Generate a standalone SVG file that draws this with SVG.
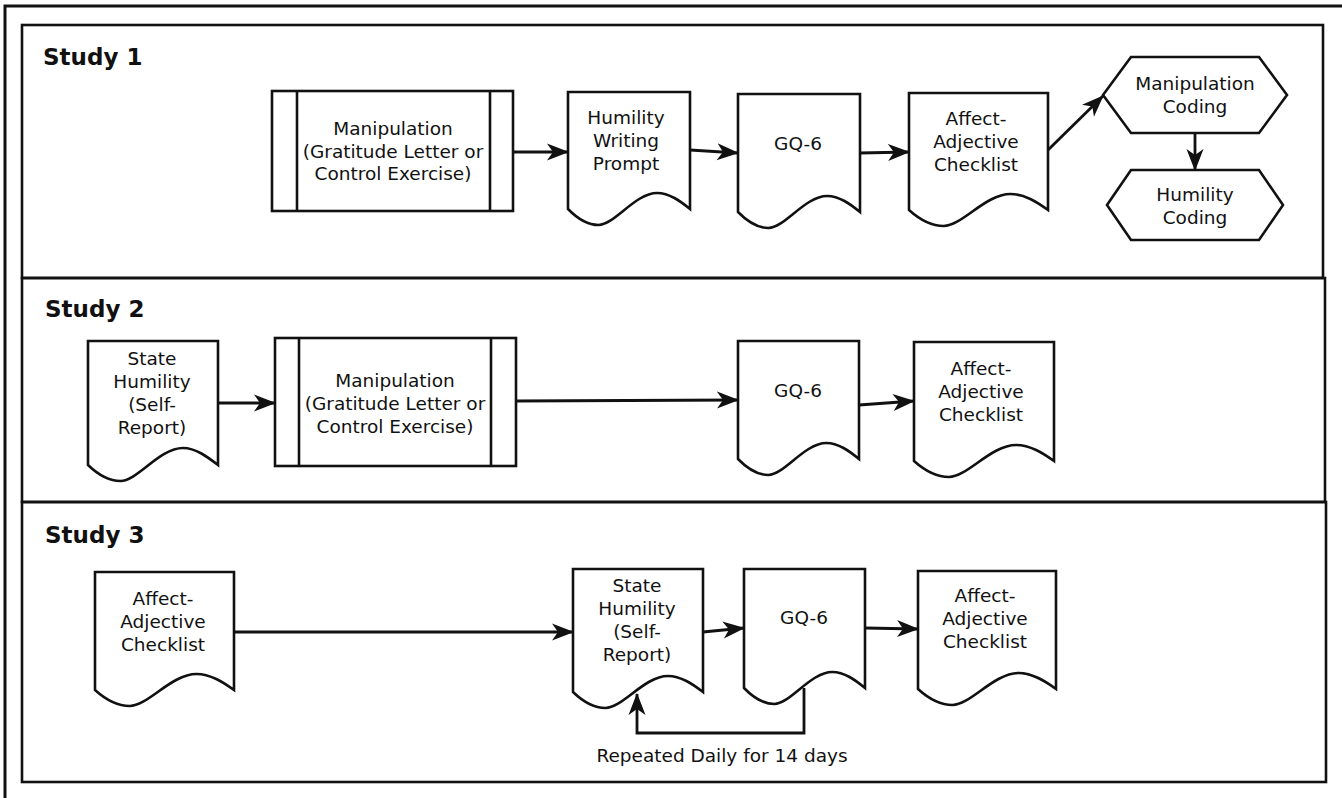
<svg xmlns="http://www.w3.org/2000/svg" width="1342" height="798" viewBox="0 0 1342 798">
<defs>
<style>
.frame{fill:none;stroke:#111;stroke-width:3}
.box{fill:none;stroke:#111;stroke-width:2.6}
.node{fill:#fff;stroke:#111;stroke-width:2.6;stroke-linejoin:miter}
.bar{fill:none;stroke:#111;stroke-width:2.6}
.t{font-family:"DejaVu Sans","Verdana",sans-serif;font-size:18.5px;fill:#111;text-anchor:middle}
.title{font-family:"DejaVu Sans","Verdana",sans-serif;font-size:23px;font-weight:bold;fill:#111}
.edge{fill:none;stroke:#111;stroke-width:2.8;marker-end:url(#ah)}
</style>
<marker id="ah" markerUnits="userSpaceOnUse" markerWidth="24" markerHeight="20" refX="21" refY="9" orient="auto" viewBox="0 0 24 20">
<path d="M0,0.5 L22,9 L0,17.5 L6,9 Z" fill="#111"/>
</marker>
</defs>
<rect width="1342" height="798" fill="#fff"/>
<path class="frame" d="M5,798 V6 H1342"/>
<g id="study1">
<rect class="box" x="22" y="25" width="1301" height="253"/>
<text class="title" x="43" y="65">Study 1</text>
</g>
<g id="study2">
<rect class="box" x="22" y="278" width="1303" height="224"/>
<text class="title" x="45" y="317">Study 2</text>
</g>
<g id="study3">
<rect class="box" x="22" y="502" width="1304" height="280"/>
<text class="title" x="45" y="543">Study 3</text>
</g>

<g id="s1-manipulation">
<rect class="node" x="272" y="91" width="241" height="120"/>
<path class="bar" d="M297,91 V211 M490,91 V211"/>
<text class="t" x="393" y="135">Manipulation</text>
<text class="t" x="393" y="158">(Gratitude Letter or</text>
<text class="t" x="393" y="180">Control Exercise)</text>
</g>
<g id="s1-humility-writing-prompt">
<path class="node" d="M568,92 V209 C577.8,219 588.7,225 598.5,225 C614.4,225 635.1,193 657.1,193 C669.3,193 680.2,201 690,209 V92 Z"/>
<text class="t" x="626" y="124">Humility</text>
<text class="t" x="626" y="147">Writing</text>
<text class="t" x="626" y="170">Prompt</text>
</g>
<g id="s1-gq6">
<path class="node" d="M738,94 V212 C747.8,222 758.7,228 768.5,228 C784.4,228 805.1,196 827.1,196 C839.3,196 850.2,204 860,212 V94 Z"/>
<text class="t" x="798" y="150">GQ-6</text>
</g>
<g id="s1-affect">
<path class="node" d="M909,93 V210 C920.1,220 932.6,226 943.8,226 C961.8,226 985.5,194 1010.5,194 C1024.4,194 1036.9,202 1048,210 V93 Z"/>
<text class="t" x="976" y="125">Affect-</text>
<text class="t" x="976" y="148">Adjective</text>
<text class="t" x="976" y="171">Checklist</text>
</g>
<g id="s1-manipulation-coding">
<path class="node" d="M1103,95 L1131,57 H1259 L1287,95 L1259,133 H1131 Z"/>
<text class="t" x="1195" y="90">Manipulation</text>
<text class="t" x="1195" y="113">Coding</text>
</g>
<g id="s1-humility-coding">
<path class="node" d="M1107,205 L1131,170 H1259 L1283,205 L1259,240 H1131 Z"/>
<text class="t" x="1195" y="201">Humility</text>
<text class="t" x="1195" y="224">Coding</text>
</g>

<g id="s2-state-humility">
<path class="node" d="M88,341 V465 C98.4,475 110.1,481 120.5,481 C137.4,481 159.5,448 182.9,448 C195.9,448 207.6,457 218,465 V341 Z"/>
<text class="t" x="152" y="365">State</text>
<text class="t" x="152" y="388">Humility</text>
<text class="t" x="152" y="411">(Self-</text>
<text class="t" x="152" y="434">Report)</text>
</g>
<g id="s2-manipulation">
<rect class="node" x="275" y="338" width="241" height="128"/>
<path class="bar" d="M299,338 V466 M491,338 V466"/>
<text class="t" x="395" y="387">Manipulation</text>
<text class="t" x="395" y="410">(Gratitude Letter or</text>
<text class="t" x="395" y="433">Control Exercise)</text>
</g>
<g id="s2-gq6">
<path class="node" d="M738,341 V459 C747.7,469 758.6,475 768.3,475 C784,475 804.6,443 826.3,443 C838.4,443 849.3,451 859,459 V341 Z"/>
<text class="t" x="798" y="397">GQ-6</text>
</g>
<g id="s2-affect">
<path class="node" d="M914,342 V461 C925.2,471 937.8,477 949,477 C967.2,477 991,445 1016.2,445 C1030.2,445 1042.8,453 1054,461 V342 Z"/>
<text class="t" x="981" y="375">Affect-</text>
<text class="t" x="981" y="398">Adjective</text>
<text class="t" x="981" y="421">Checklist</text>
</g>

<g id="s3-affect-pre">
<path class="node" d="M95,572 V690 C106.1,700 118.6,706 129.8,706 C147.8,706 171.5,674 196.5,674 C210.4,674 222.9,682 234,690 V572 Z"/>
<text class="t" x="163" y="605">Affect-</text>
<text class="t" x="163" y="628">Adjective</text>
<text class="t" x="163" y="651">Checklist</text>
</g>
<g id="s3-state-humility">
<path class="node" d="M573,569 V692 C583.4,702 595.1,708 605.5,708 C622.4,708 644.5,676 667.9,676 C680.9,676 692.6,684 703,692 V569 Z"/>
<text class="t" x="637" y="592">State</text>
<text class="t" x="637" y="615">Humility</text>
<text class="t" x="637" y="638">(Self-</text>
<text class="t" x="637" y="661">Report)</text>
</g>
<g id="s3-gq6">
<path class="node" d="M744,569 V688 C753.7,698 764.6,704 774.3,704 C790,704 810.6,672 832.3,672 C844.4,672 855.3,680 865,688 V569 Z"/>
<text class="t" x="804" y="624">GQ-6</text>
</g>
<g id="s3-affect-post">
<path class="node" d="M918,571 V689 C929,699 941.5,705 952.5,705 C970.4,705 993.9,673 1018.7,673 C1032.5,673 1045,681 1056,689 V571 Z"/>
<text class="t" x="985" y="602">Affect-</text>
<text class="t" x="985" y="625">Adjective</text>
<text class="t" x="985" y="648">Checklist</text>
</g>

<g id="connectors">
<path class="edge" d="M513,152 L568,152"/>
<path class="edge" d="M690,150 L738,153"/>
<path class="edge" d="M860,153 L909,152"/>
<path class="edge" d="M1048,150 L1103,96"/>
<path class="edge" d="M1195,133 L1195,170"/>
<path class="edge" d="M218,403 L275,403"/>
<path class="edge" d="M516,401 L738,400"/>
<path class="edge" d="M859,405 L914,401"/>
<path class="edge" d="M234,632 L573,632"/>
<path class="edge" d="M703,632 L744,628"/>
<path class="edge" d="M865,628 L918,629"/>
<path class="edge" d="M804,688 V733 H637 V694"/>
<text class="t" x="722" y="762">Repeated Daily for 14 days</text>
</g>
</svg>
